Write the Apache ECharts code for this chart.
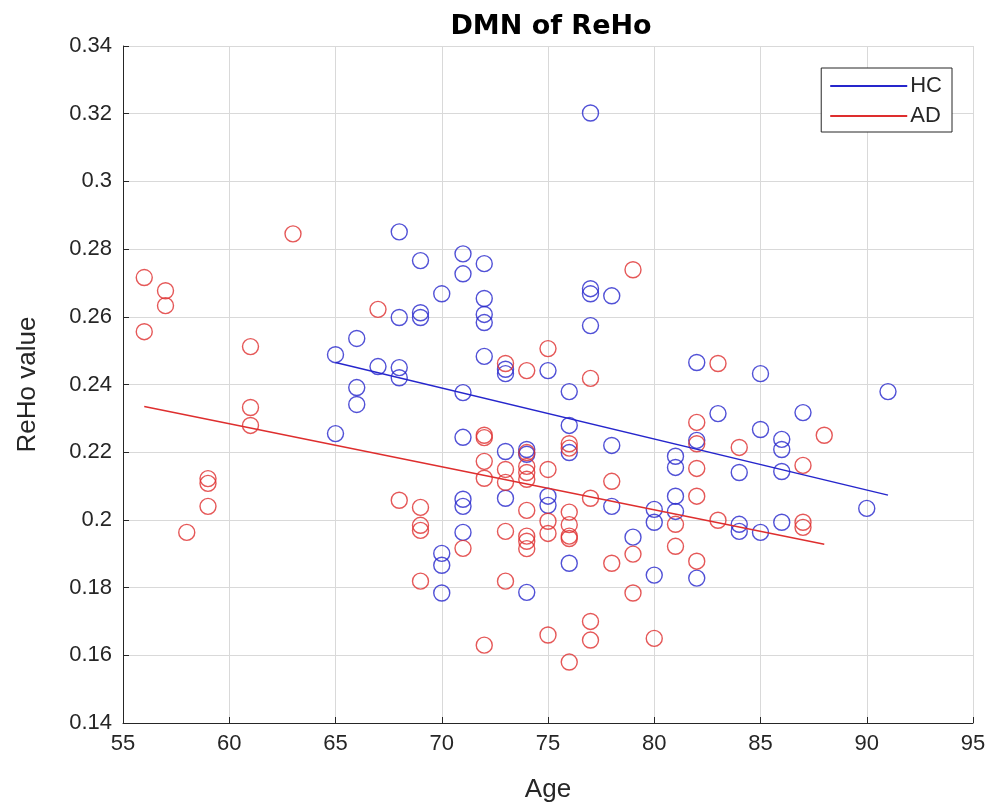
<!DOCTYPE html>
<html>
<head>
<meta charset="utf-8">
<script src="https://cdn.jsdelivr.net/npm/echarts@6/dist/echarts.min.js"></script>
<style>
  html, body { margin: 0; padding: 0; background: #fff; }
  #chart { width: 992px; height: 808px; }
</style>
</head>
<body>
<div id="chart"></div>
<script>
// Healthy controls (HC): age and ReHo value per subject
const hcAge = [
  65, 65,
  66, 66, 66,
  67,
  68, 68, 68, 68,
  69, 69, 69,
  70, 70, 70, 70,
  71, 71, 71, 71, 71, 71, 71,
  72, 72, 72, 72, 72,
  73, 73, 73, 73,
  74, 74, 74,
  75, 75, 75,
  76, 76, 76, 76,
  77, 77, 77, 77,
  78, 78, 78,
  79,
  80, 80, 80,
  81, 81, 81, 81,
  82, 82, 82,
  83,
  84, 84, 84,
  85, 85, 85,
  86, 86, 86, 86,
  87,
  90,
  91
];
const hcReho = [
  0.2488, 0.2255,
  0.2536, 0.2391, 0.2341,
  0.2453,
  0.2851, 0.2598, 0.2450, 0.2420,
  0.2766, 0.2612, 0.2598,
  0.2668, 0.1901, 0.1866, 0.1784,
  0.2786, 0.2727, 0.2376, 0.2244, 0.2061, 0.2040, 0.1963,
  0.2757, 0.2654, 0.2607, 0.2583, 0.2483,
  0.2445, 0.2432, 0.2202, 0.2064,
  0.2208, 0.2194, 0.1786,
  0.2441, 0.2070, 0.2043,
  0.2379, 0.2279, 0.2199, 0.1872,
  0.3202, 0.2683, 0.2668, 0.2574,
  0.2662, 0.2220, 0.2040,
  0.1949,
  0.2031, 0.1993, 0.1837,
  0.2188, 0.2155, 0.2070, 0.2025,
  0.2465, 0.2235, 0.1828,
  0.2314,
  0.2140, 0.1987, 0.1966,
  0.2432, 0.2267, 0.1963,
  0.2238, 0.2208, 0.2143, 0.1993,
  0.2317,
  0.2034,
  0.2379
];

// Alzheimer's disease (AD): age and ReHo value per subject
const adAge = [
  56, 56,
  57, 57,
  58,
  59, 59, 59,
  61, 61, 61,
  63,
  67,
  68,
  69, 69, 69, 69,
  71,
  72, 72, 72, 72, 72,
  73, 73, 73, 73, 73,
  74, 74, 74, 74, 74, 74, 74, 74, 74,
  75, 75, 75, 75, 75,
  76, 76, 76, 76, 76, 76, 76,
  77, 77, 77, 77,
  78, 78,
  79, 79, 79,
  80,
  81, 81,
  82, 82, 82, 82, 82,
  83, 83,
  84,
  87, 87, 87,
  88
];
const adReho = [
  0.2716, 0.2556,
  0.2677, 0.2633,
  0.1963,
  0.2122, 0.2108, 0.2040,
  0.2512, 0.2332, 0.2279,
  0.2845,
  0.2622,
  0.2058,
  0.2037, 0.1984, 0.1969, 0.1819,
  0.1916,
  0.2250, 0.2243, 0.2173, 0.2123, 0.1630,
  0.2462, 0.2149, 0.2111, 0.1966, 0.1819,
  0.2441, 0.2199, 0.2158, 0.2140, 0.2120, 0.2028, 0.1952, 0.1937, 0.1915,
  0.2506, 0.2149, 0.1996, 0.1960, 0.1660,
  0.2225, 0.2212, 0.2023, 0.1986, 0.1952, 0.1945, 0.1580,
  0.2418, 0.2064, 0.1700, 0.1645,
  0.2114, 0.1872,
  0.2739, 0.1899, 0.1784,
  0.1650,
  0.1987, 0.1922,
  0.2288, 0.2225, 0.2152, 0.2070, 0.1878,
  0.2462, 0.1999,
  0.2214,
  0.2161, 0.1993, 0.1978,
  0.2250
];

// Linear fit lines: [age, ReHo] at each end of the group's age range
const hcFitAge = [65, 91];
const hcFitReho = [0.2465, 0.2073];
const adFitAge = [56, 88];
const adFitReho = [0.2335, 0.1928];

// Axis ticks
const xTicks = [55, 60, 65, 70, 75, 80, 85, 90, 95];
const yTicks = [0.14, 0.16, 0.18, 0.2, 0.22, 0.24, 0.26, 0.28, 0.3, 0.32, 0.34];

const BLUE = '#2626cc';
const RED = '#de2e2e';
const TEXT = '#262626';
const FONT = 'Liberation Sans, Arial, sans-serif';

const pairs = (xs, ys) => xs.map((x, i) => [x, ys[i]]);

const chart = echarts.init(document.getElementById('chart'), null, { renderer: 'canvas' });

const axisCommon = {
  axisLine: { show: true, lineStyle: { color: TEXT, width: 1 } },
  axisTick: { show: true, inside: true, length: 6, lineStyle: { color: TEXT } },
  splitLine: { show: true, lineStyle: { color: '#d9d9d9', width: 1 } },
  axisLabel: { color: TEXT, fontFamily: FONT, fontSize: 22 },
  nameTextStyle: { color: TEXT, fontFamily: FONT, fontSize: 26 }
};

chart.setOption({
  animation: false,
  backgroundColor: '#ffffff',
  title: {
    text: 'DMN of ReHo',
    left: 546,
    textAlign: 'center',
    top: 8,
    textStyle: { color: '#000', fontFamily: 'DejaVu Sans, sans-serif', fontSize: 27, fontWeight: 'bold' }
  },
  grid: { left: 123, right: 19, top: 46, bottom: 84, containLabel: false },
  legend: {
    data: ['HC', 'AD'],
    orient: 'vertical',
    right: 40,
    top: 68,
    padding: [7, 10, 5, 9],
    itemGap: 8,
    itemWidth: 77,
    itemHeight: 2,
    icon: 'rect',
    backgroundColor: '#fff',
    borderColor: TEXT,
    borderWidth: 1,
    borderRadius: 0,
    textStyle: { color: TEXT, fontFamily: FONT, fontSize: 22, padding: [0, 0, 0, -2] }
  },
  xAxis: Object.assign({}, axisCommon, {
    type: 'value',
    min: xTicks[0],
    max: xTicks[xTicks.length - 1],
    interval: xTicks[1] - xTicks[0],
    name: 'Age',
    nameLocation: 'middle',
    nameGap: 54,
    axisLabel: Object.assign({}, axisCommon.axisLabel, { margin: 10 })
  }),
  yAxis: Object.assign({}, axisCommon, {
    type: 'value',
    min: yTicks[0],
    max: yTicks[yTicks.length - 1],
    interval: 0.02,
    name: 'ReHo value',
    nameLocation: 'middle',
    nameRotate: 90,
    nameGap: 82,
    axisLabel: Object.assign({}, axisCommon.axisLabel, {
      margin: 11,
      formatter: v => String(Math.round(v * 100) / 100)
    })
  }),
  series: [
    {
      name: 'HC data',
      type: 'scatter',
      data: pairs(hcAge, hcReho),
      symbol: 'circle',
      symbolSize: 16,
      itemStyle: { color: 'transparent', borderColor: BLUE, borderWidth: 1.4 },
      z: 3
    },
    {
      name: 'AD data',
      type: 'scatter',
      data: pairs(adAge, adReho),
      symbol: 'circle',
      symbolSize: 16,
      itemStyle: { color: 'transparent', borderColor: RED, borderWidth: 1.4 },
      z: 3
    },
    {
      name: 'HC',
      type: 'line',
      data: pairs(hcFitAge, hcFitReho),
      symbol: 'none',
      color: BLUE,
      lineStyle: { color: BLUE, width: 1.4 },
      z: 4
    },
    {
      name: 'AD',
      type: 'line',
      data: pairs(adFitAge, adFitReho),
      symbol: 'none',
      color: RED,
      lineStyle: { color: RED, width: 1.4 },
      z: 4
    }
  ]
});
</script>
</body>
</html>
